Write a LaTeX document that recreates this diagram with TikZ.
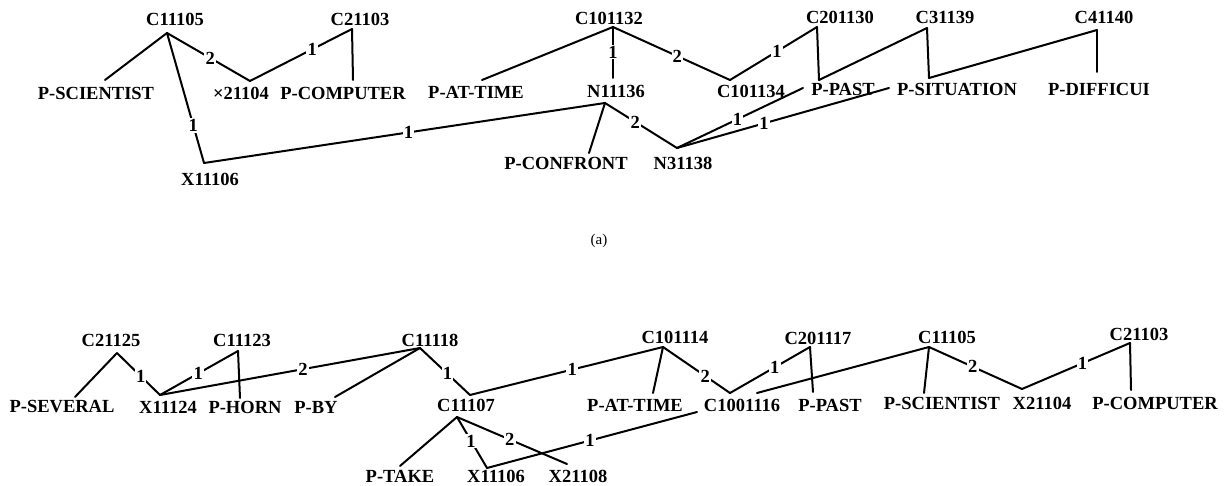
\documentclass[tikz,border=0pt]{standalone}
\usepackage{fontspec}
\setmainfont{Liberation Serif}
\begin{document}
\begin{tikzpicture}[x=1pt,y=-1pt,
  txt/.style={font=\fontsize{18.5}{21}\selectfont\bfseries, inner sep=0pt},
  lbl/.style={font=\fontsize{18.5}{21}\selectfont\bfseries, fill=white, inner sep=1.2pt},
  edge/.style={line width=2pt, line cap=round, line join=miter}]
\useasboundingbox (0,0) rectangle (1228,486);

% ---------------- network (a) ----------------
\node[txt] (ac11105) at (175,19) {C11105};
\coordinate (ac11105p) at (167,33);
\node[txt] (apsci) at (96,93) {P-SCIENTIST};
\coordinate (apscip) at (105,80);
\node[txt] (ax21104) at (241,93) {×21104};
\coordinate (ax21104p) at (250,81);
\node[txt] (ac21103) at (360,19) {C21103};
\coordinate (ac21103p) at (352,29);
\node[txt] (apcomp) at (343,93) {P-COMPUTER};
\coordinate (apcompp) at (353,80);
\node[txt] (ax11106) at (210,179) {X11106};
\coordinate (ax11106p) at (204,163);
\node[txt] (ac101132) at (609,18) {C101132};
\coordinate (ac101132p) at (613,27);
\node[txt] (apat) at (476,92) {P-AT-TIME};
\coordinate (apatp) at (482,80);
\node[txt] (an11136) at (616,91) {N11136};
\coordinate (an11136t) at (613,78);
\coordinate (an11136b) at (605,103);
\node[txt] (ac101134) at (751,91) {C101134};
\coordinate (ac101134p) at (730,80);
\node[txt] (ac201130) at (840,17) {C201130};
\coordinate (ac201130p) at (817,27);
\node[txt] (appast) at (843,89) {P-PAST};
\coordinate (appastt) at (819,80);
\coordinate (appastl) at (803,88);
\node[txt] (ac31139) at (945,17) {C31139};
\coordinate (ac31139p) at (927,28);
\node[txt] (apsit) at (957,89) {P-SITUATION};
\coordinate (apsitt) at (929,78);
\coordinate (apsitl) at (889,88);
\node[txt] (ac41140) at (1104,17) {C41140};
\coordinate (ac41140p) at (1097,30);
\node[txt] (apdiff) at (1099,89) {P-DIFFICUI};
\coordinate (apdiffp) at (1097,72);
\node[txt] (apconf) at (566,163) {P-CONFRONT};
\coordinate (apconfp) at (589,153);
\node[txt] (an31138) at (683,163) {N31138};
\coordinate (an31138p) at (677,148);

\draw[edge] (ac11105p) -- (apscip);
\draw[edge] (ac11105p) -- node[lbl,pos=.52]{2} (ax21104p);
\draw[edge] (ax21104p) -- node[lbl,pos=.61]{1} (ac21103p);
\draw[edge] (ac21103p) -- (apcompp);
\draw[edge] (ac11105p) -- node[lbl,pos=.71]{1} (ax11106p);
\draw[edge] (ax11106p) -- node[lbl,pos=.51]{1} (an11136b);
\draw[edge] (ac101132p) -- (apatp);
\draw[edge] (ac101132p) -- node[lbl,pos=.49]{1} (an11136t);
\draw[edge] (ac101132p) -- node[lbl,pos=.55]{2} (ac101134p);
\draw[edge] (ac101134p) -- node[lbl,pos=.54]{1} (ac201130p);
\draw[edge] (ac201130p) -- (appastt);
\draw[edge] (appastt) -- (ac31139p);
\draw[edge] (ac31139p) -- (apsitt);
\draw[edge] (apsitt) -- (ac41140p);
\draw[edge] (ac41140p) -- (apdiffp);
\draw[edge] (an11136b) -- (apconfp);
\draw[edge] (an11136b) -- node[lbl,pos=.42]{2} (an31138p);
\draw[edge] (an31138p) -- node[lbl,pos=.48]{1} (appastl);
\draw[edge] (an31138p) -- node[lbl,pos=.41]{1} (apsitl);

\node[font=\fontsize{15}{17}\selectfont, inner sep=0pt] (capa) at (599,241) {(a)};

% ---------------- network (b) ----------------
\node[txt] (bc21125) at (111,340) {C21125};
\coordinate (bc21125p) at (117,353);
\node[txt] (bpsev) at (62,407) {P-SEVERAL};
\coordinate (bpsevp) at (75,397);
\node[txt] (bx11124) at (168,407) {X11124};
\coordinate (bx11124p) at (160,395);
\node[txt] (bc11123) at (242,340) {C11123};
\coordinate (bc11123p) at (238,351);
\node[txt] (bphorn) at (245,407) {P-HORN};
\coordinate (bphornp) at (240,398);
\node[txt] (bc11118) at (430,340) {C11118};
\coordinate (bc11118p) at (420,348);
\node[txt] (bpby) at (316,407) {P-BY};
\coordinate (bpbyp) at (335,397);
\node[txt] (bc11107) at (466,405) {C11107};
\coordinate (bc11107t) at (470,395);
\coordinate (bc11107b) at (457,417);
\node[txt] (bptake) at (400,476) {P-TAKE};
\coordinate (bptakep) at (400,466);
\node[txt] (bx11106) at (496,476.5) {X11106};
\coordinate (bx11106p) at (487,468);
\node[txt] (bx21108) at (578,476.5) {X21108};
\coordinate (bx21108p) at (567,464);
\node[txt] (bc101114) at (675,337) {C101114};
\coordinate (bc101114p) at (663,347);
\node[txt] (bpat) at (635,405) {P-AT-TIME};
\coordinate (bpatp) at (653,393);
\node[txt] (bc1001116) at (742,405) {C1001116};
\coordinate (bc1001116t) at (730,393);
\coordinate (bc1001116b) at (697,412);
\coordinate (bc1001116r) at (757,393);
\node[txt] (bc201117) at (818,338) {C201117};
\coordinate (bc201117p) at (810,347);
\node[txt] (bppast) at (830,405) {P-PAST};
\coordinate (bppastp) at (813,392);
\node[txt] (bc11105) at (947,337) {C11105};
\coordinate (bc11105p) at (929,347);
\node[txt] (bpsci) at (942,403) {P-SCIENTIST};
\coordinate (bpscip) at (924,393);
\node[txt] (bx21104) at (1042,403) {X21104};
\coordinate (bx21104p) at (1022,389);
\node[txt] (bc21103) at (1139,334) {C21103};
\coordinate (bc21103p) at (1130,343);
\node[txt] (bpcomp) at (1155,403) {P-COMPUTER};
\coordinate (bpcompp) at (1131,390);

\draw[edge] (bc21125p) -- (bpsevp);
\draw[edge] (bc21125p) -- node[lbl,pos=.55]{1} (bx11124p);
\draw[edge] (bx11124p) -- node[lbl,pos=.49]{1} (bc11123p);
\draw[edge] (bc11123p) -- (bphornp);
\draw[edge] (bx11124p) -- node[lbl,pos=.55]{2} (bc11118p);
\draw[edge] (bc11118p) -- (bpbyp);
\draw[edge] (bc11118p) -- node[lbl,pos=.55]{1} (bc11107t);
\draw[edge] (bc11107t) -- node[lbl,pos=.53]{1} (bc101114p);
\draw[edge] (bc11107b) -- (bptakep);
\draw[edge] (bc11107b) -- node[lbl,pos=.47]{1} (bx11106p);
\draw[edge] (bc11107b) -- node[lbl,pos=.48]{2} (bx21108p);
\draw[edge] (bx11106p) -- node[lbl,pos=.49]{1} (bc1001116b);
\draw[edge] (bc101114p) -- (bpatp);
\draw[edge] (bc101114p) -- node[lbl,pos=.63]{2} (bc1001116t);
\draw[edge] (bc1001116t) -- node[lbl,pos=.56]{1} (bc201117p);
\draw[edge] (bc201117p) -- (bppastp);
\draw[edge] (bc1001116r) -- (bc11105p);
\draw[edge] (bc11105p) -- (bpscip);
\draw[edge] (bc11105p) -- node[lbl,pos=.47]{2} (bx21104p);
\draw[edge] (bx21104p) -- node[lbl,pos=.56]{1} (bc21103p);
\draw[edge] (bc21103p) -- (bpcompp);
\end{tikzpicture}
\end{document}
